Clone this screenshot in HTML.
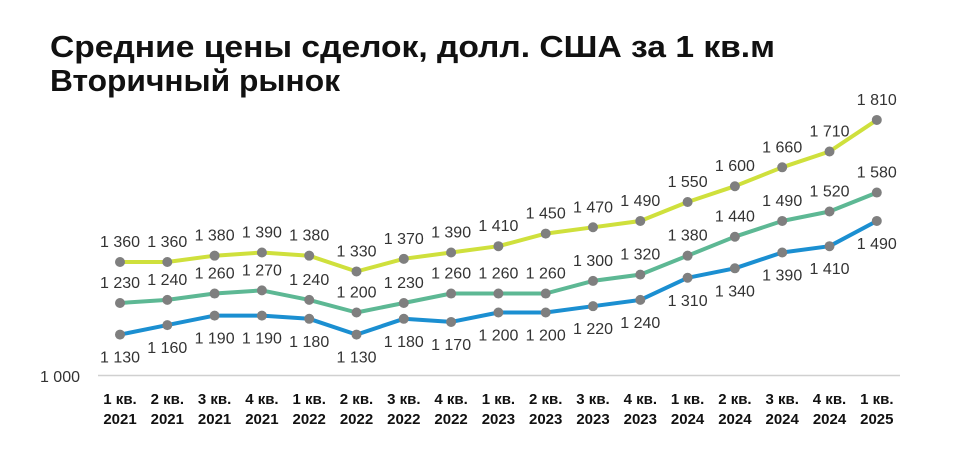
<!DOCTYPE html>
<html><head><meta charset="utf-8"><style>
body{margin:0;background:#fff;width:973px;height:455px;overflow:hidden}
svg text{font-family:"Liberation Sans",sans-serif}
</style></head><body>
<svg width="973" height="455" xmlns="http://www.w3.org/2000/svg" id="s">
<text x="50" y="57" font-size="31" font-weight="bold" fill="#111" textLength="725" lengthAdjust="spacingAndGlyphs">Средние цены сделок, долл. США за 1 кв.м</text>
<text x="50" y="91" font-size="31" font-weight="bold" fill="#111" textLength="290" lengthAdjust="spacingAndGlyphs">Вторичный рынок</text>
<line x1="98" y1="375.5" x2="900" y2="375.5" stroke="#d0d0d0" stroke-width="1.5"/>
<text x="80" y="382" font-size="16" fill="#333" text-anchor="end">1 000</text>
<g id="g"></g>
</svg>
<script>
var Y=[1360,1360,1380,1390,1380,1330,1370,1390,1410,1450,1470,1490,1550,1600,1660,1710,1810];
var G=[1230,1240,1260,1270,1240,1200,1230,1260,1260,1260,1300,1320,1380,1440,1490,1520,1580];
var B=[1130,1160,1190,1190,1180,1130,1180,1170,1200,1200,1220,1240,1310,1340,1390,1410,1490];
var yr=['2021','2021','2021','2021','2022','2022','2022','2022','2023','2023','2023','2023','2024','2024','2024','2024','2025'];
var q=[1,2,3,4,1,2,3,4,1,2,3,4,1,2,3,4,1];
function X(i){return 120+i*47.3} function V(v){return 375.6-(v-1000)*0.3156}
function f(v){return String(v).replace(/^(\d)(\d{3})$/,'$1 $2')}
var h='';
[[Y,'#cfe03c',-15],[G,'#5db894',-15],[B,'#1b8fd1',28]].forEach(function(s){
 var d=s[0].map(function(v,i){return X(i).toFixed(1)+','+V(v).toFixed(1)}).join(' ');
 h+='<polyline points="'+d+'" fill="none" stroke="'+s[1]+'" stroke-width="4" stroke-linejoin="round"/>';
 s[0].forEach(function(v,i){h+='<circle cx="'+X(i)+'" cy="'+V(v)+'" r="5" fill="#7f7f7f"/>';
 h+='<text x="'+X(i)+'" y="'+(V(v)+s[2])+'" font-size="16" fill="#333" text-anchor="middle">'+f(v)+'</text>';});
});
for(var i=0;i<17;i++){h+='<text x="'+X(i)+'" y="404" font-size="15" font-weight="bold" fill="#111" text-anchor="middle">'+q[i]+' кв.</text>';
h+='<text x="'+X(i)+'" y="424" font-size="15" font-weight="bold" fill="#111" text-anchor="middle">'+yr[i]+'</text>';}
document.getElementById('g').innerHTML=h;
</script>
</body></html>
